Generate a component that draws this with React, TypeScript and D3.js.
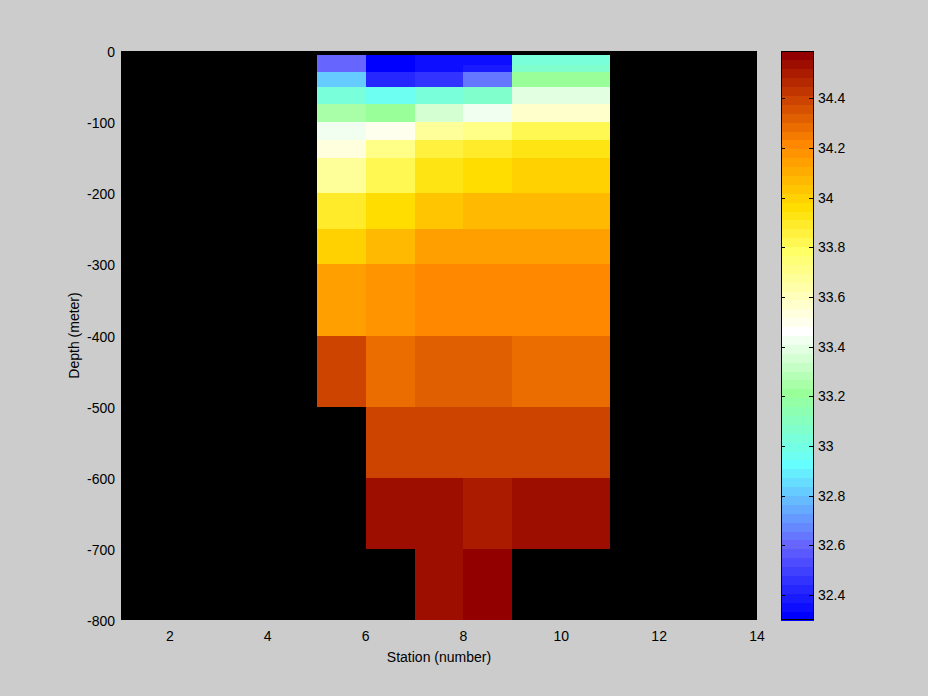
import React from 'react';
import * as d3 from 'd3';

// Station columns (each cell spans station s to s+1)
const stations = [5, 6, 7, 8, 9, 10];
// Depth bin edges (m), 15 rows
const depthEdges = [5, 20, 30, 50, 75, 100, 125, 150, 200, 250, 300, 400, 500, 600, 700, 800];

// Salinity per station, one value per depth bin (NaN = no data)
const st5 = [32.60, 32.61, 32.82, 33.03, 33.25, 33.43, 33.53, 33.68, 33.89, 34.00, 34.14, 34.39, NaN, NaN, NaN];
const st6 = [32.30, 32.31, 32.43, 32.96, 33.21, 33.50, 33.71, 33.82, 33.96, 34.07, 34.18, 34.29, 34.39, 34.54, NaN];
const st7 = [32.35, 32.35, 32.46, 33.03, 33.36, 33.68, 33.86, 33.93, 34.03, 34.14, 34.21, 34.32, 34.39, 34.54, 34.54];
const st8 = [32.35, 32.39, 32.64, 33.07, 33.43, 33.71, 33.89, 33.96, 34.07, 34.14, 34.21, 34.32, 34.39, 34.50, 34.59];
const st9 = [33.03, 33.07, 33.21, 33.39, 33.57, 33.82, 33.93, 34.00, 34.07, 34.14, 34.21, 34.29, 34.39, 34.54, NaN];
const st10 = [33.03, 33.07, 33.21, 33.39, 33.57, 33.82, 33.93, 34.00, 34.07, 34.14, 34.21, 34.29, 34.39, 34.54, NaN];
const stationValues = [st5, st6, st7, st8, st9, st10];

// Tick values
const xTicks = [2, 4, 6, 8, 10, 12, 14];
const yTicks = [0, -100, -200, -300, -400, -500, -600, -700, -800];
const cbTicks = [32.4, 32.6, 32.8, 33, 33.2, 33.4, 33.6, 33.8, 34, 34.2, 34.4];

// Colormap anchors (level index of 64 -> colour)
const cmapStops = [0, 8, 17, 25, 32, 41, 46, 53, 58, 63];
const cmapColors = ['#0000ff', '#6666ff', '#66ffff', '#99ff99', '#ffffff', '#ffff66', '#ffdd00', '#ff8800', '#cc4400', '#930000'];
const NLEV = 64;

const W = 928, H = 696;
const PL = 121, PR = 757, PT = 51, PB = 620;
const CBL = 781, CBR = 814;
const FONT = '"Liberation Sans", Arial, Helvetica, sans-serif';

export default function App() {
  const x = d3.scaleLinear().domain([1, 14]).range([PL, PR]);
  const y = d3.scaleLinear().domain([-800, 0]).range([PB, PT]);

  const allVals = stationValues.flat().filter(v => !isNaN(v));
  const [cmin, cmax] = d3.extent(allVals) as [number, number];

  const cmapScale = d3.scaleLinear<string>().domain(cmapStops).range(cmapColors).interpolate(d3.interpolateRgb);
  const cmap = d3.range(NLEV).map(i => d3.color(cmapScale(i))!.formatHex());
  const levelOf = (v: number) => Math.max(0, Math.min(NLEV - 1, Math.floor((v - cmin) / (cmax - cmin) * NLEV)));

  const cb = d3.scaleLinear().domain([cmin, cmax]).range([PB, PT]);

  const cells: JSX.Element[] = [];
  stations.forEach((s, j) => {
    const vals = stationValues[j];
    vals.forEach((v, r) => {
      if (isNaN(v)) return;
      const x0 = Math.round(x(s)), x1 = Math.round(x(s + 1));
      const y0 = Math.round(y(-depthEdges[r])), y1 = Math.round(y(-depthEdges[r + 1]));
      cells.push(
        <rect key={`${j}-${r}`} x={x0} y={y0} width={x1 - x0} height={y1 - y0} fill={cmap[levelOf(v)]} />
      );
    });
  });

  const bandH = (PB - PT) / NLEV;

  return (
    <svg width={W} height={H} style={{ position: 'absolute', left: 0, top: 0 }} fontFamily={FONT}>
      <rect x={0} y={0} width={W} height={H} fill="#cccccc" />
      <g shapeRendering="crispEdges">
        <rect x={PL} y={PT} width={PR - PL} height={PB - PT} fill="#000000" />
        {cells}
      </g>
      {xTicks.map(t => (
        <text key={`xt${t}`} x={x(t)} y={641} fontSize={14} textAnchor="middle" fill="#000">{t}</text>
      ))}
      {yTicks.map(t => (
        <text key={`yt${t}`} x={115} y={y(t) + 6} fontSize={14} textAnchor="end" fill="#000">{t}</text>
      ))}
      <text x={(PL + PR) / 2} y={662} fontSize={14} textAnchor="middle" fill="#000">Station (number)</text>
      <text transform={`translate(79,${(PT + PB) / 2}) rotate(-90)`} fontSize={14} textAnchor="middle" fill="#000">Depth (meter)</text>

      {/* colorbar */}
      <g shapeRendering="crispEdges">
        {cmap.map((c, i) => (
          <rect key={`cb${i}`} x={CBL} y={PB - (i + 1) * bandH} width={CBR - CBL} height={bandH + 0.5} fill={c} />
        ))}
        <rect x={CBL + 0.5} y={PT + 0.5} width={CBR - CBL - 1} height={PB - PT - 1} fill="none" stroke="#000" strokeWidth={1} />
        {cbTicks.map(t => (
          <g key={`cbt${t}`}>
            <line x1={CBL} x2={CBL + 4} y1={Math.round(cb(t)) + 0.5} y2={Math.round(cb(t)) + 0.5} stroke="#000" />
            <line x1={CBR - 5} x2={CBR} y1={Math.round(cb(t)) + 0.5} y2={Math.round(cb(t)) + 0.5} stroke="#000" />
          </g>
        ))}
      </g>
      {cbTicks.map(t => (
        <text key={`cbl${t}`} x={CBR + 4} y={cb(t) + 5} fontSize={14} fill="#000">{String(+t.toFixed(1))}</text>
      ))}
    </svg>
  );
}
